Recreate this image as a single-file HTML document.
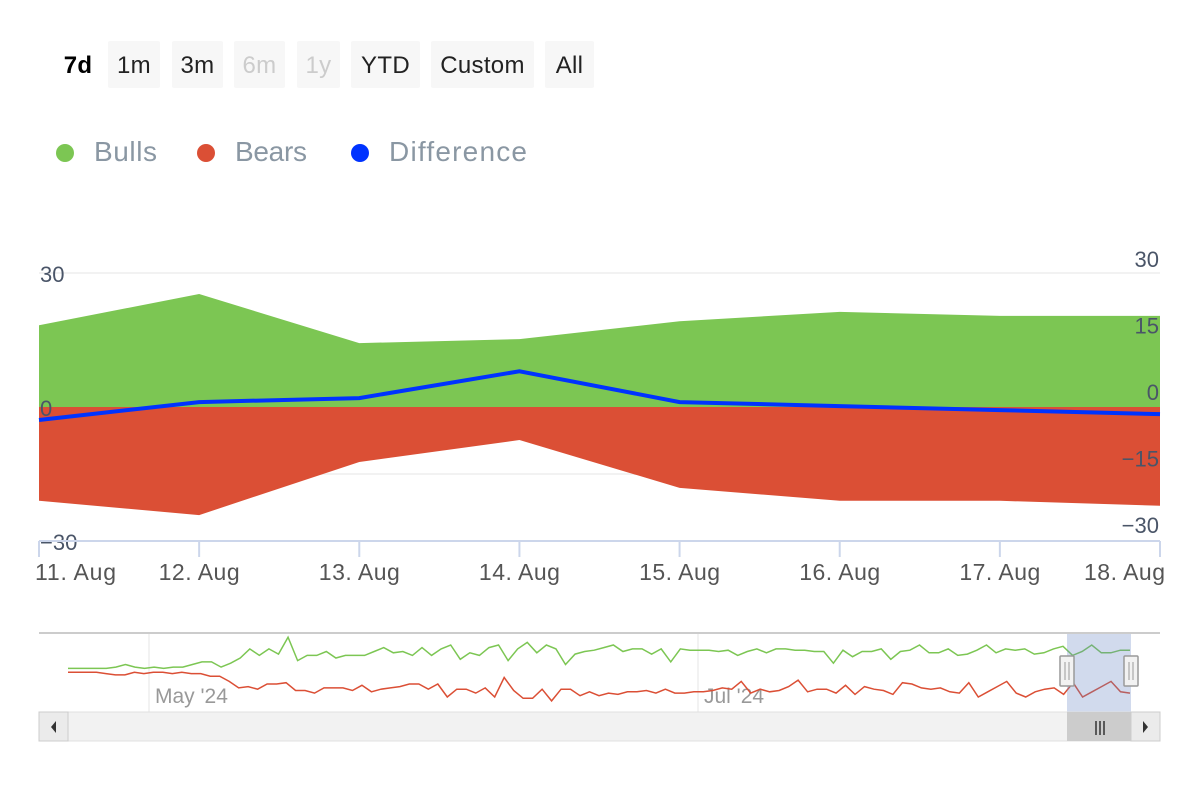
<!DOCTYPE html>
<html><head><meta charset="utf-8"><style>
body{margin:0;width:1200px;height:800px;background:#fff;font-family:"Liberation Sans",sans-serif;overflow:hidden}
.btn{position:absolute;top:41px;height:47px;line-height:50px;text-align:center;font-size:24px;color:#222;background:#f7f7f7;border-radius:2px;letter-spacing:0.3px}
</style></head><body>
<div class="btn" style="left:56px;width:44px;background:none;font-weight:bold;color:#000">7d</div>
<div class="btn" style="left:108px;width:52px">1m</div>
<div class="btn" style="left:172px;width:51px">3m</div>
<div class="btn" style="left:234px;width:51px;color:#ccc">6m</div>
<div class="btn" style="left:297px;width:43px;color:#ccc">1y</div>
<div class="btn" style="left:351px;width:69px">YTD</div>
<div class="btn" style="left:431px;width:103px">Custom</div>
<div class="btn" style="left:545px;width:49px">All</div>
<svg id="c" width="1200" height="800" style="position:absolute;left:0;top:0" font-family="Liberation Sans, sans-serif">
<g font-size="28" fill="#8a97a3">
<g><circle cx="65" cy="153" r="9" fill="#7cc653"/><text x="94" y="161" textLength="63">Bulls</text></g>
<g><circle cx="206" cy="153" r="9" fill="#db4f35"/><text x="235" y="161" textLength="72">Bears</text></g>
<g><circle cx="360" cy="153" r="9" fill="#0033ff"/><text x="389" y="161" textLength="138">Difference</text></g>
</g>
</svg>
<script>
const dates=["11. Aug","12. Aug","13. Aug","14. Aug","15. Aug","16. Aug","17. Aug","18. Aug"];
const bulls=[18.3,25.3,14.3,15.2,19.2,21.3,20.4,20.4];
const bears=[-21,-24.2,-12.3,-7.4,-18.1,-21,-21,-22.1];
const diff=[-2.9,1.1,2,8,1.1,0.2,-0.7,-1.6];
const leftTicks=[30,0,-30];
const rightTicks=[30,15,0,-15,-30];
const navBulls=[2,2,2,2,2,3,5,3,2,3,2,3,3,5,7,7,3,6,10,17,12,17,13,26,8,12,12,15,10,12,12,12,15,18,14,15,12,18,12,17,20,9,14,12,18,20,8,17,22,14,20,17,5,13,15,16,18,20,15,17,17,13,17,7,17,16,16,16,15,16,12,15,17,14,17,17,16,16,15,15,6,16,11,15,15,17,9,15,16,20,14,14,17,12,13,16,20,14,17,16,17,13,14,17,19,12,15,20,14,14,16,16];
const navBears=[-1,-1,-1,-1,-2,-3,-3,-1,-2,-1,-1,-2,-1,-2,-2,-4,-4,-8,-13,-12,-14,-10,-10,-9,-15,-15,-17,-13,-13,-13,-15,-11,-16,-14,-13,-12,-10,-10,-14,-10,-20,-14,-14,-17,-13,-20,-5,-15,-21,-21,-14,-23,-14,-14,-19,-16,-19,-17,-18,-16,-16,-15,-17,-14,-17,-17,-16,-16,-15,-13,-14,-8,-17,-14,-16,-15,-12,-7,-16,-14,-14,-17,-11,-18,-12,-14,-15,-18,-9,-10,-13,-14,-13,-16,-17,-9,-20,-16,-12,-8,-17,-20,-16,-14,-13,-18,-9,-20,-16,-12,-8,-16,-17];
const svg=document.getElementById('c');const NS='http://www.w3.org/2000/svg';
function mk(t,a,p){const e=document.createElementNS(NS,t);for(const k in a)e.setAttribute(k,a[k]);(p||svg).appendChild(e);return e;}
const X0=39,X1=1160;
const x=i=>X0+(X1-X0)*i/(dates.length-1);
const y=v=>407-v*134/30;
const plot=mk('g',{});


[30,-15].forEach(v=>{const g=mk('line',{x1:X0,x2:X1,y1:y(v),y2:y(v),stroke:'#f2f2f2','stroke-width':2},plot);
});
let pb='M'+x(0)+','+y(0);bulls.forEach((v,i)=>pb+=' L'+x(i)+','+y(v));pb+=' L'+x(bulls.length-1)+','+y(0)+'Z';
const ab=mk('path',{d:pb,fill:'#7cc653'},plot);

let pr='M'+x(0)+','+y(0);bears.forEach((v,i)=>pr+=' L'+x(i)+','+y(v));pr+=' L'+x(bears.length-1)+','+y(0)+'Z';
const ar=mk('path',{d:pr,fill:'#db4f35'},plot);

const dl=mk('polyline',{points:diff.map((v,i)=>x(i)+','+y(v)).join(' '),fill:'none',stroke:'#0033ff','stroke-width':4},plot);

leftTicks.forEach(v=>{const t=mk('text',{x:40,y:y(v)+9,'font-size':22,fill:'#4a5568'});t.textContent=v<0?'−'+(-v):v;
});
const ry=v=>392-v*66.5/15;
rightTicks.forEach(v=>{const t=mk('text',{x:1159,y:ry(v)+8,'font-size':22,fill:'#4a5568','text-anchor':'end'});t.textContent=v<0?'−'+(-v):v;
});
const ax=mk('line',{x1:X0,x2:X1,y1:541,y2:541,stroke:'#ccd6eb','stroke-width':2});

dates.forEach((d,i)=>{const tk=mk('line',{x1:x(i),x2:x(i),y1:541,y2:557,stroke:'#ccd6eb','stroke-width':2});

let anc='middle',xx=x(i);if(i==0){xx=X0-4;anc='start'}if(i==dates.length-1){xx=X1+5;anc='end'}
const t=mk('text',{x:xx,y:580,'font-size':23,fill:'#555','text-anchor':anc,textLength:81});t.textContent=d;
});
const nav=mk('g',{});

mk('line',{x1:X0,x2:X1,y1:633,y2:633,stroke:'#ccc','stroke-width':2},nav);
[[149,"May '24"],[698,"Jul '24"]].forEach(([lx,s])=>{mk('line',{x1:lx,x2:lx,y1:634,y2:712,stroke:'#e6e6e6'},nav);
const t=mk('text',{x:lx+6,y:703,'font-size':21,fill:'#999'},nav);t.textContent=s;
});
const NX0=68,NX1=1130;
const nx=(i,n)=>NX0+(NX1-NX0)*i/(n-1);
const ny=v=>671-v*1.3;
const ng=mk('polyline',{points:navBulls.map((v,i)=>nx(i,navBulls.length)+','+ny(v)).join(' '),fill:'none',stroke:'#7cc653','stroke-width':1.5},nav);

const nr=mk('polyline',{points:navBears.map((v,i)=>nx(i,navBears.length)+','+ny(v)).join(' '),fill:'none',stroke:'#db4f35','stroke-width':1.5},nav);

const sel=mk('rect',{x:1067,y:634,width:64,height:78,fill:'rgba(102,133,194,0.3)'},nav);

[1067,1131].forEach(hx=>{const h=mk('g',{},nav);

mk('rect',{x:hx-7,y:656,width:14,height:30,fill:'#f2f2f2',stroke:'#999','stroke-width':1.5,rx:1},h);
mk('line',{x1:hx-2,x2:hx-2,y1:662,y2:680,stroke:'#999'},h);mk('line',{x1:hx+2,x2:hx+2,y1:662,y2:680,stroke:'#999'},h);});
const sb=mk('g',{});

mk('rect',{x:39,y:712,width:1121,height:29,fill:'#f2f2f2',stroke:'#e0e0e0'},sb);
mk('rect',{x:1067,y:712,width:64,height:29,fill:'#ccc'},sb);
mk('path',{d:'M1096,721v14M1100,721v14M1104,721v14',stroke:'#333','stroke-width':1.5},sb);
const lb=mk('g',{},sb);
mk('rect',{x:39,y:712,width:29,height:29,fill:'#ebebeb',stroke:'#ccc'},lb);mk('path',{d:'M56,721l-5,6l5,6z',fill:'#333'},lb);
const rb=mk('g',{},sb);
mk('rect',{x:1131,y:712,width:29,height:29,fill:'#ebebeb',stroke:'#ccc'},rb);mk('path',{d:'M1143,721l5,6l-5,6z',fill:'#333'},rb);
</script>
</body></html>
